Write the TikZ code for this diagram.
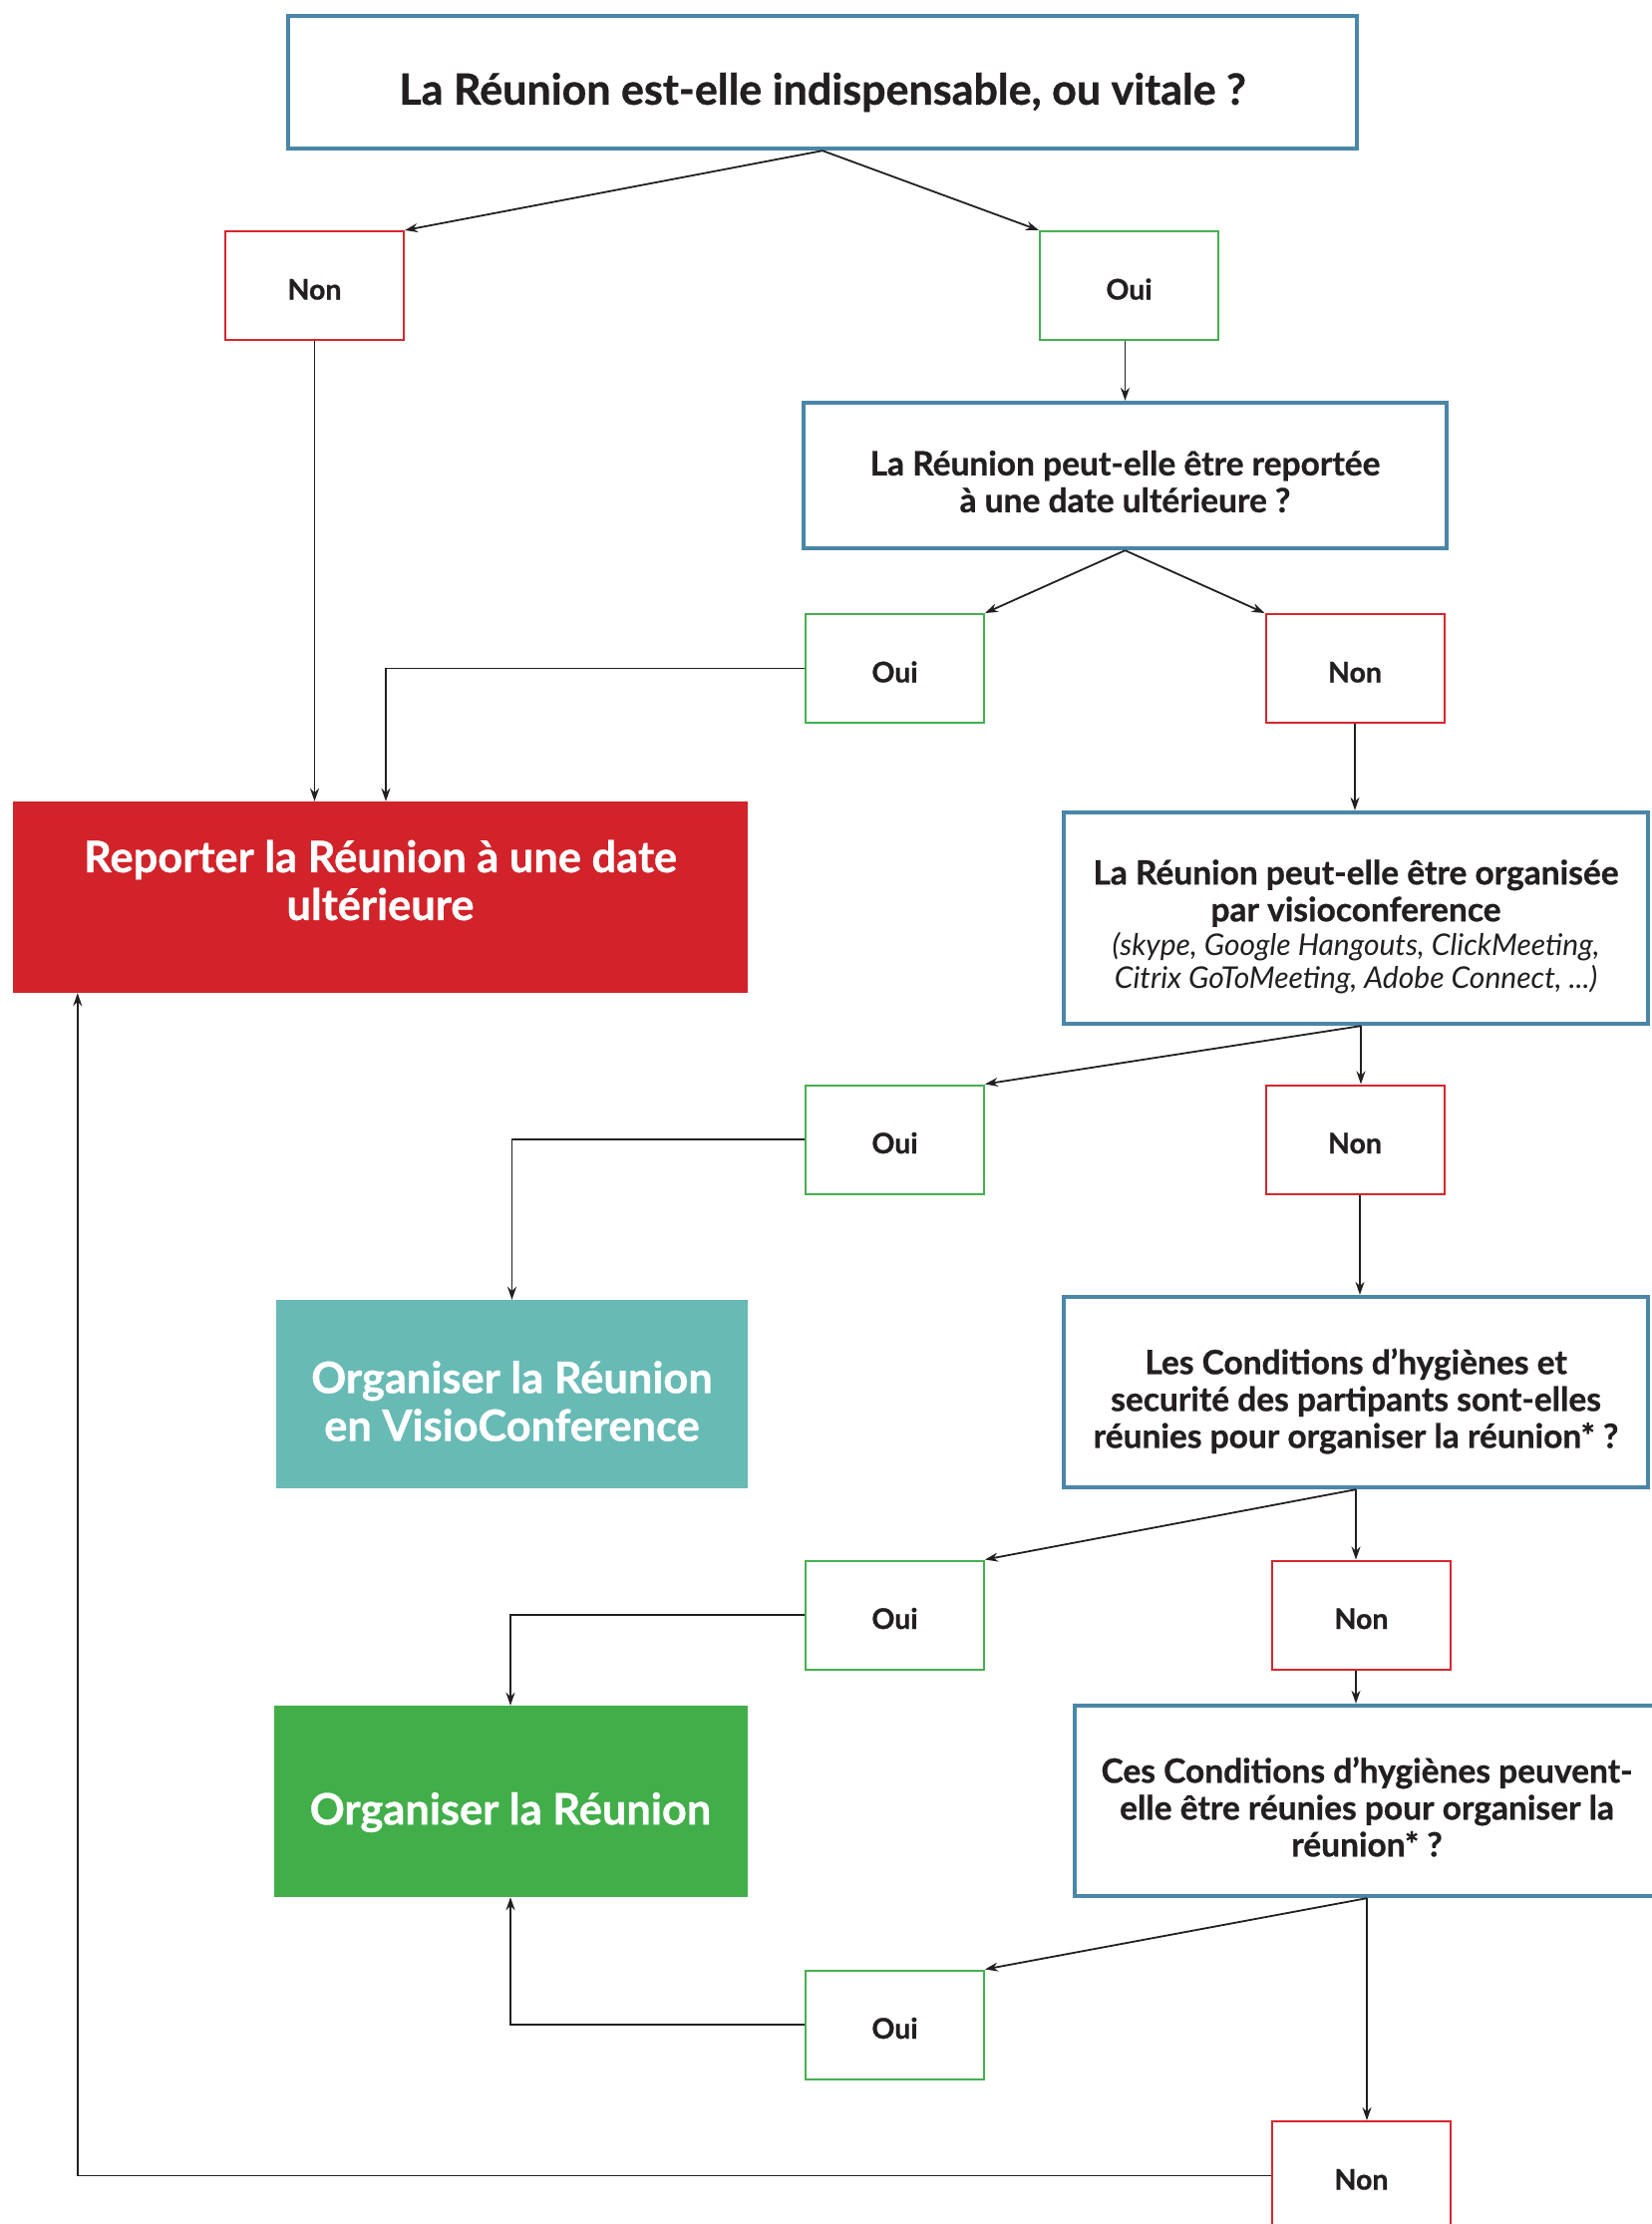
\documentclass[tikz,border=0pt]{standalone}
\usepackage{fontspec}
\setmainfont{Lato}[BoldFeatures={FakeBold=0.8}]
\usetikzlibrary{arrows.meta,calc}
\definecolor{qblue}{HTML}{4A86A8}
\definecolor{nred}{HTML}{D7262E}
\definecolor{ogreen}{HTML}{45B04E}
\definecolor{redfill}{HTML}{D2232A}
\definecolor{tealfill}{HTML}{68BAB5}
\definecolor{greenfill}{HTML}{41AE4A}
\definecolor{ink}{HTML}{231F20}
\tikzset{
  qbox/.style={draw=qblue, line width=4.3pt, fill=white, inner sep=0pt},
  qtxt/.style={align=center, text=ink, font=\fontsize{33.5}{37}\selectfont\bfseries, inner sep=0pt},
  nonbox/.style={draw=nred, line width=2pt, minimum width=179pt, minimum height=109pt, font=\fontsize{28.5}{32}\selectfont\bfseries, text=ink, inner sep=0pt, text height=28pt, text depth=0pt},
  ouibox/.style={draw=ogreen, line width=2pt, minimum width=179pt, minimum height=109pt, font=\fontsize{28.5}{32}\selectfont\bfseries, text=ink, inner sep=0pt, text height=28pt, text depth=0pt},
  bigbox/.style={inner sep=0pt},
  bigtxt/.style={text=white, align=center, font=\fontsize{43.4}{48}\selectfont\bfseries, inner sep=0pt},
  arr/.style={draw=ink, line width=1.8pt, -{Stealth[length=13pt,width=9pt]}}
}
\newcommand{\itxt}[1]{{\fontsize{30}{33}\selectfont\mdseries\itshape #1}}
\begin{document}
\begin{tikzpicture}[x=1pt,y=-1pt]
\useasboundingbox (0,0) rectangle (1657,2231);
% questions
\node[qbox, minimum width=1072pt, minimum height=133pt,
  label={[qtxt, yshift=-10pt, font=\fontsize{43}{48}\selectfont\bfseries]center:La Réunion est-elle indispensable, ou vitale ?}] (q1) at (825,82.5) {};
\node[qbox, minimum width=645pt, minimum height=146pt,
  label={[qtxt, yshift=-6pt]center:La Réunion peut-elle être reportée\\à une date ultérieure ?}] (q2) at (1128.5,477) {};
\node[qbox, minimum width=586pt, minimum height=212pt,
  label={[qtxt, yshift=-8.5pt]center:La Réunion peut-elle être organisée\\par visioconference\\[-3pt]\itxt{(skype, Google Hangouts, ClickMeeting,}\\[-4pt]\itxt{Citrix GoToMeeting, Adobe Connect, ...)}}] (q3) at (1360,921) {};
\node[qbox, minimum width=586pt, minimum height=191pt,
  label={[qtxt, yshift=-9pt]center:Les Conditions d’hygiènes et\\securité des partipants sont-elles\\réunies pour organiser la réunion* ?}] (q4) at (1360,1396.5) {};
\node[qbox, minimum width=586pt, minimum height=191pt,
  label={[qtxt, yshift=-6pt]center:Ces Conditions d’hygiènes peuvent-\\elle être réunies pour organiser la\\réunion* ?}] (q5) at (1371,1806.5) {};
% answers
\node[nonbox] (n1) at (315.5,286.5) {Non};
\node[ouibox] (o1) at (1132.5,286.5) {Oui};
\node[ouibox] (o2) at (897.5,670.5) {Oui};
\node[nonbox] (n2) at (1359,670.5) {Non};
\node[ouibox] (o3) at (897.5,1143) {Oui};
\node[nonbox] (n3) at (1359,1143) {Non};
\node[ouibox] (o4) at (897.5,1620) {Oui};
\node[nonbox] (n4) at (1365.5,1620) {Non};
\node[ouibox] (o5) at (897.5,2031) {Oui};
\node[nonbox] (n5) at (1365.5,2182.5) {Non};
% outcomes
\node[bigbox, fill=redfill, minimum width=737pt, minimum height=192pt,
  label={[bigtxt, yshift=17pt]center:Reporter la Réunion à une date\\ultérieure}] (red) at (381.5,900) {};
\node[bigbox, fill=tealfill, minimum width=473pt, minimum height=189pt,
  label={[bigtxt, yshift=-7pt]center:Organiser la Réunion\\en VisioConference}] (teal) at (513.5,1398.5) {};
\node[bigbox, fill=greenfill, minimum width=475pt, minimum height=192pt,
  label={[bigtxt, yshift=-11pt]center:Organiser la Réunion}] (green) at (512,1807) {};
% helper points
\coordinate (c3) at ($(q3.south)+(5,0)$);
\coordinate (c3b) at ($(n3.south)+(5,0)$);
\coordinate (credin) at ($(red.north)+(5.5,0)$);
\coordinate (credout) at ($(red.south west)+(65,0)$);
% connectors
\draw[arr] (q1.south) -- (n1.north east);
\draw[arr] (q1.south) -- (o1.north west);
\draw[arr] (q2.north |- o1.south) -- (q2.north);
\draw[arr] (q2.south) -- (o2.north east);
\draw[arr] (q2.south) -- (n2.north west);
\draw[arr] (n1.south) -- (n1.south |- red.north);
\draw[arr] (o2.west) -| (credin);
\draw[arr] (n2.south) -- (n2.south |- q3.north);
\draw[arr] (c3) -- (o3.north east);
\draw[arr] (c3) -- (c3 |- n3.north);
\draw[arr] (o3.west) -| (teal.north);
\draw[arr] (c3b) -- (c3b |- q4.north);
\draw[arr] (q4.south) -- (o4.north east);
\draw[arr] (q4.south) -- (q4.south |- n4.north);
\draw[arr] (o4.west) -| (green.north);
\draw[arr] (q4.south |- n4.south) -- (q4.south |- q5.north);
\draw[arr] (q5.south) -- (o5.north east);
\draw[arr] (q5.south) -- (q5.south |- n5.north);
\draw[arr] (o5.west) -| (green.south);
\draw[arr] (n5.west) -| (credout);
\end{tikzpicture}
\end{document}
